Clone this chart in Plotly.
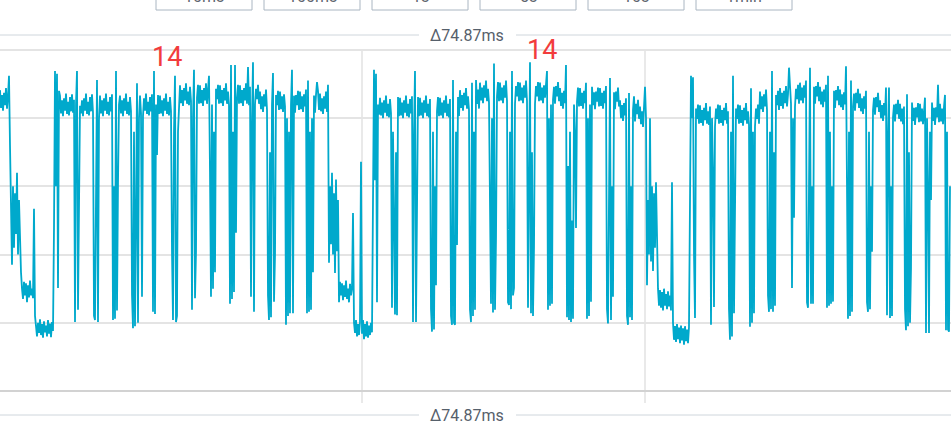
import numpy as np
import plotly.graph_objects as go

# ---------------- data ----------------
sample_ms = 0.1  # sampling interval of the captured trace (ms)

# captured signal (ADC counts), one row = 20 samples = 2 ms
signal = [
    441, 415, 434, 411, 437, 419, 444, 414, 432, 462, 360, 250, 185, 300, 210, 290, 230, 320, 200, 280,
    215, 174, 150, 135, 160, 140, 158, 130, 155, 137, 162, 140, 150, 136, 267, 110, 95, 80, 100, 85,
    105, 82, 98, 78, 102, 86, 96, 80, 104, 84, 99, 79, 101, 88, 239, 469, 300, 465, 151, 440,
    433, 407, 426, 403, 429, 411, 436, 406, 424, 404, 431, 410, 435, 408, 427, 101, 420, 469, 119, 306,
    418, 407, 426, 403, 429, 411, 436, 406, 424, 404, 431, 410, 435, 408, 110, 104, 330, 456, 101, 400,
    433, 407, 426, 403, 429, 411, 436, 406, 424, 404, 431, 410, 435, 104, 300, 106, 469, 118, 306, 420,
    433, 407, 426, 403, 429, 411, 436, 406, 424, 404, 431, 410, 141, 92, 380, 95, 250, 451, 100, 400,
    433, 407, 138, 403, 429, 411, 436, 406, 424, 404, 431, 410, 435, 116, 469, 113, 420, 346, 434, 406,
    433, 407, 426, 403, 429, 411, 436, 406, 424, 404, 431, 410, 204, 104, 380, 462, 101, 110, 380, 425,
    448, 422, 441, 418, 444, 426, 451, 421, 439, 419, 446, 425, 119, 400, 471, 136, 204, 430, 449, 421,
    448, 422, 441, 418, 444, 426, 451, 421, 439, 462, 321, 138, 420, 150, 380, 174, 443, 428, 449, 421,
    448, 422, 441, 418, 444, 426, 451, 421, 439, 419, 128, 478, 135, 380, 145, 478, 232, 430, 449, 421,
    448, 422, 441, 418, 444, 426, 451, 421, 475, 419, 446, 138, 400, 482, 116, 420, 443, 428, 449, 421,
    439, 413, 432, 409, 435, 417, 442, 412, 140, 104, 350, 108, 420, 466, 131, 199, 434, 419, 440, 412,
    439, 413, 432, 409, 435, 417, 97, 400, 110, 380, 114, 420, 471, 114, 433, 408, 434, 419, 440, 412,
    439, 413, 432, 409, 435, 417, 442, 114, 455, 116, 380, 119, 400, 174, 433, 408, 434, 453, 440, 412,
    436, 410, 429, 406, 432, 414, 439, 409, 449, 188, 300, 215, 320, 200, 290, 173, 310, 205, 280, 130,
    160, 140, 158, 133, 155, 138, 162, 135, 150, 130, 157, 140, 150, 261, 100, 85, 104, 80, 98, 82,
    101, 336, 84, 104, 76, 98, 80, 102, 78, 96, 82, 100, 86, 300, 471, 309, 465, 130, 420, 405,
    430, 404, 423, 400, 426, 408, 433, 403, 421, 401, 428, 407, 122, 380, 192, 112, 350, 111, 431, 403,
    430, 404, 423, 400, 426, 408, 433, 403, 421, 401, 428, 407, 432, 101, 380, 469, 101, 287, 431, 403,
    430, 404, 423, 400, 426, 408, 433, 403, 421, 401, 428, 120, 87, 380, 90, 300, 155, 410, 431, 403,
    430, 404, 423, 400, 426, 408, 433, 403, 421, 401, 428, 110, 97, 456, 100, 97, 380, 214, 431, 403,
    441, 415, 434, 411, 437, 419, 444, 414, 432, 412, 119, 101, 452, 110, 380, 119, 456, 421, 442, 414,
    452, 426, 445, 422, 448, 430, 455, 425, 443, 423, 300, 128, 400, 115, 480, 119, 224, 432, 453, 425,
    452, 426, 445, 422, 448, 430, 455, 425, 130, 126, 380, 120, 469, 140, 151, 421, 447, 432, 453, 425,
    452, 426, 445, 422, 448, 430, 455, 425, 122, 380, 482, 114, 350, 110, 211, 421, 447, 432, 453, 425,
    452, 426, 445, 422, 448, 430, 455, 469, 119, 400, 125, 420, 128, 427, 446, 421, 447, 432, 453, 425,
    444, 418, 437, 414, 440, 422, 478, 108, 330, 104, 380, 101, 250, 106, 420, 380, 239, 424, 445, 417,
    444, 418, 437, 414, 440, 422, 452, 106, 400, 110, 420, 131, 446, 419, 438, 413, 439, 424, 445, 417,
    444, 418, 437, 414, 440, 422, 447, 120, 99, 380, 459, 104, 300, 138, 438, 413, 439, 424, 445, 417,
    426, 400, 419, 396, 422, 404, 429, 110, 97, 437, 108, 300, 104, 412, 432, 395, 421, 406, 427, 399,
    417, 391, 410, 387, 413, 446, 400, 155, 280, 200, 400, 190, 300, 176, 290, 210, 306, 185, 150, 125,
    148, 122, 145, 118, 150, 125, 142, 120, 146, 124, 140, 118, 306, 100, 75, 95, 72, 98, 76, 93,
    70, 96, 74, 92, 68, 95, 73, 90, 70, 94, 250, 462, 400, 460, 200, 107, 414, 399, 420, 392,
    419, 393, 412, 389, 415, 397, 422, 392, 410, 390, 417, 97, 400, 324, 123, 388, 414, 399, 420, 392,
    419, 393, 412, 389, 415, 397, 422, 392, 410, 120, 75, 380, 80, 462, 114, 300, 414, 399, 420, 392,
    419, 393, 412, 389, 415, 397, 422, 392, 410, 390, 94, 444, 100, 380, 114, 388, 414, 399, 420, 392,
    439, 413, 432, 409, 435, 417, 442, 412, 140, 116, 380, 120, 469, 116, 350, 125, 434, 419, 440, 412,
    444, 418, 437, 414, 440, 422, 447, 417, 435, 474, 442, 421, 151, 400, 254, 417, 443, 428, 449, 421,
    452, 426, 445, 422, 448, 430, 455, 130, 122, 380, 474, 128, 300, 128, 446, 421, 447, 432, 453, 425,
    446, 420, 439, 416, 442, 424, 449, 122, 462, 125, 380, 128, 300, 131, 440, 415, 441, 426, 447, 419,
    442, 416, 435, 412, 438, 420, 476, 300, 106, 380, 110, 455, 116, 417, 436, 411, 437, 422, 443, 415,
    436, 410, 429, 406, 432, 414, 440, 130, 116, 380, 120, 300, 204, 411, 430, 405, 431, 416, 437, 409,
    426, 400, 419, 396, 422, 404, 445, 111, 380, 445, 107, 300, 110, 401, 420, 395, 421, 406, 427, 399,
    421, 395, 414, 391, 417, 120, 89, 435, 95, 350, 100, 180, 423, 396, 415, 390, 416, 401, 422, 394,
    421, 395, 414, 391, 417, 430, 85, 400, 300, 85, 380, 280, 423, 396, 415, 390, 416, 401, 449, 394,
    421, 395, 414, 391, 417, 434, 89, 380, 90, 87, 300,
]

grid_levels = [100, 200, 300, 400, 500]
marker_ms = [36.2, 64.5]
count_text = ["14", "14"]
count_ms = [16.7, 54.2]
count_level = [490, 500]
delta_label = "Δ74.87ms"
range_buttons = ["10ms", "100ms", "1s", "5s", "10s", "1min"]

# ---------------- figure ----------------
W, H = 951, 436
t = np.arange(len(signal)) * sample_ms


def px_x(p):
    return p / W


def px_y(p):
    return 1 - p / H


fig = go.Figure()
fig.add_trace(go.Scatter(
    x=t, y=signal, mode="lines",
    line=dict(color="#00a9cc", width=1.8),
    hoverinfo="skip", showlegend=False,
))

shapes = []
annotations = []

# vertical cursor grid lines
for m in marker_ms:
    shapes.append(dict(type="line", xref="x", yref="paper", x0=m, x1=m,
                       y0=px_y(403), y1=px_y(50),
                       line=dict(color="#e2e2e2", width=1.5), layer="below"))

# delta rulers (top and bottom)
for yy in (35, 415):
    for a, b in ((0, 419), (516, W)):
        shapes.append(dict(type="line", xref="paper", yref="paper",
                           x0=px_x(a), x1=px_x(b), y0=px_y(yy), y1=px_y(yy),
                           line=dict(color="#cfd6dc", width=1)))
    annotations.append(dict(xref="paper", yref="paper", x=px_x(467), y=px_y(yy),
                            text=delta_label, showarrow=False,
                            font=dict(family="Roboto", size=16, color="#56606b"),
                            xanchor="center", yanchor="middle"))

# range buttons (cut off at the top)
for i, lab in enumerate(range_buttons):
    x0 = 156 + i * 108
    x1 = x0 + 96
    shapes.append(dict(type="rect", xref="paper", yref="paper",
                       x0=px_x(x0), x1=px_x(x1), y0=px_y(10), y1=1.2,
                       line=dict(color="#aab6c2", width=1), fillcolor="white"))
    annotations.append(dict(xref="paper", yref="paper", x=px_x((x0 + x1) / 2), y=px_y(8),
                            text=lab, showarrow=False,
                            font=dict(family="Roboto", size=16, color="#5f6670"),
                            xanchor="center", yanchor="bottom"))

# pulse count labels
for txt, tm, lv in zip(count_text, count_ms, count_level):
    annotations.append(dict(xref="x", yref="y", x=tm, y=lv, text=txt, showarrow=False,
                            font=dict(family="Roboto", size=27, color="#f23c3c"),
                            xanchor="center", yanchor="middle"))

fig.update_layout(
    width=W, height=H,
    margin=dict(l=0, r=0, t=0, b=0),
    paper_bgcolor="white", plot_bgcolor="white",
    xaxis=dict(range=[0, 95.1], showgrid=False, zeroline=False,
               showticklabels=False, ticks="", fixedrange=True),
    yaxis=dict(range=[-66.0, 573.2], tickvals=grid_levels, showgrid=True,
               gridcolor="#e4e4e4", gridwidth=1.5,
               zeroline=True, zerolinecolor="#d2d2d2", zerolinewidth=2,
               showticklabels=False, ticks="", fixedrange=True),
    shapes=shapes, annotations=annotations,
)

fig.write_html("out.html", config={"displayModeBar": False},
               post_script="document.body.style.margin='0';")
